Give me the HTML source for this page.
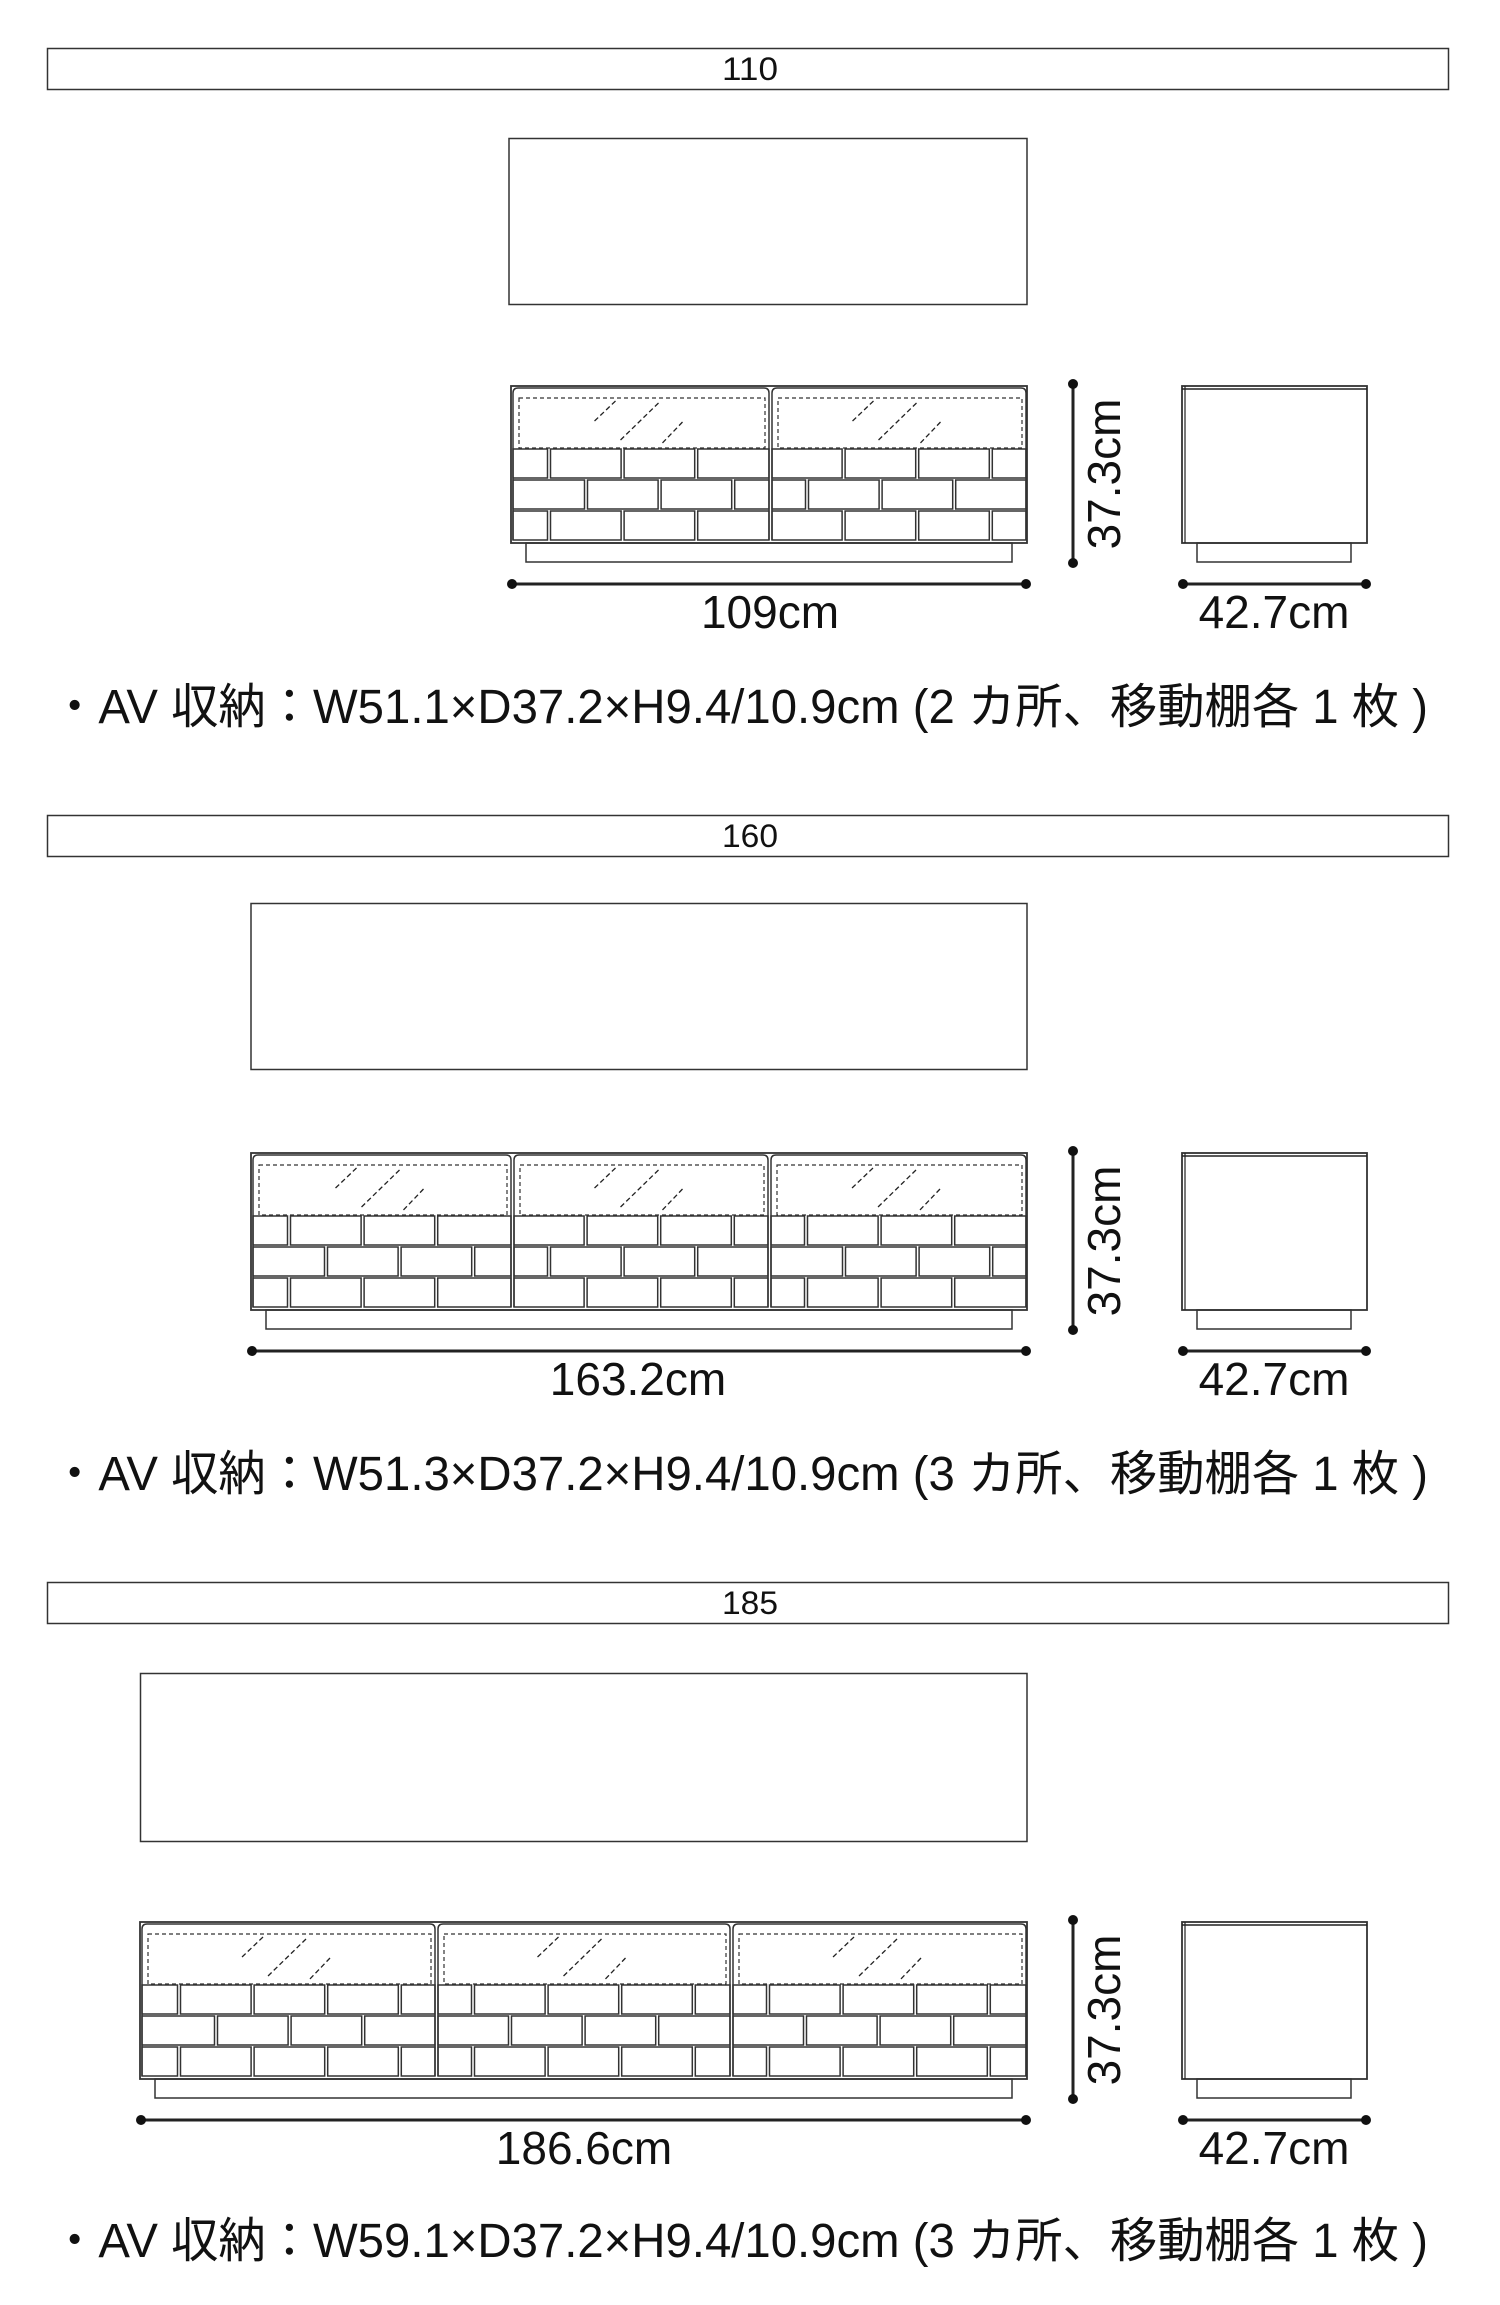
<!DOCTYPE html>
<html><head><meta charset="utf-8">
<style>
html,body{margin:0;padding:0;background:#fff;}
svg{display:block;}
text{font-family:"Liberation Sans","Noto Sans CJK JP",sans-serif;fill:#111;}
</style></head>
<body>
<svg id="s" width="1500" height="2305" viewBox="0 0 1500 2305" xmlns="http://www.w3.org/2000/svg">
<rect x="0" y="0" width="1500" height="2305" fill="#fff"/>
<rect x="47.5" y="48.5" width="1401" height="41" fill="none" stroke="#333" stroke-width="1.5"/>
<text x="750" y="80" font-size="32" text-anchor="middle" textLength="56" lengthAdjust="spacingAndGlyphs">110</text>
<rect x="47.5" y="815.5" width="1401" height="41" fill="none" stroke="#333" stroke-width="1.5"/>
<text x="750" y="847" font-size="32" text-anchor="middle" textLength="56" lengthAdjust="spacingAndGlyphs">160</text>
<rect x="47.5" y="1582.5" width="1401" height="41" fill="none" stroke="#333" stroke-width="1.5"/>
<text x="750" y="1614" font-size="32" text-anchor="middle" textLength="56" lengthAdjust="spacingAndGlyphs">185</text>
<rect x="509" y="138.5" width="518" height="166" fill="none" stroke="#333" stroke-width="1.5"/>
<rect x="251" y="903.5" width="776" height="166" fill="none" stroke="#333" stroke-width="1.5"/>
<rect x="140.5" y="1673.5" width="886.5" height="168" fill="none" stroke="#333" stroke-width="1.5"/>
<text x="770" y="628" font-size="46" text-anchor="middle">109cm</text>
<text x="638" y="1395" font-size="46" text-anchor="middle">163.2cm</text>
<text x="584" y="2164" font-size="46" text-anchor="middle">186.6cm</text>
<text x="1274" y="628" font-size="46" text-anchor="middle">42.7cm</text>
<text x="1274" y="1395" font-size="46" text-anchor="middle">42.7cm</text>
<text x="1274" y="2164" font-size="46" text-anchor="middle">42.7cm</text>
<text transform="translate(1120,474) rotate(-90)" font-size="46" text-anchor="middle">37.3cm</text>
<text transform="translate(1120,1241) rotate(-90)" font-size="46" text-anchor="middle">37.3cm</text>
<text transform="translate(1120,2010) rotate(-90)" font-size="46" text-anchor="middle">37.3cm</text>
<text x="51" y="723" font-size="48" textLength="1377" lengthAdjust="spacingAndGlyphs">・AV 収納：W51.1×D37.2×H9.4/10.9cm (2 カ所、移動棚各 1 枚 )</text>
<text x="51" y="1490" font-size="48" textLength="1377" lengthAdjust="spacingAndGlyphs">・AV 収納：W51.3×D37.2×H9.4/10.9cm (3 カ所、移動棚各 1 枚 )</text>
<text x="51" y="2257" font-size="48" textLength="1377" lengthAdjust="spacingAndGlyphs">・AV 収納：W59.1×D37.2×H9.4/10.9cm (3 カ所、移動棚各 1 枚 )</text>
<g id="g"></g>
</svg>
<script>
(function(){
var g=document.getElementById('g');var h='';
var P=73.6;
function ln(x1,y1,x2,y2,w,extra){h+='<line x1="'+x1+'" y1="'+y1+'" x2="'+x2+'" y2="'+y2+'" stroke="#222" stroke-width="'+w+'" '+(extra||'')+'/>';}
function rc(x,y,w,hh,sw,extra){h+='<rect x="'+x+'" y="'+y+'" width="'+w+'" height="'+hh+'" fill="none" stroke="#333" stroke-width="'+sw+'" '+(extra||'')+'/>';}
function dot(x,y){h+='<circle cx="'+x+'" cy="'+y+'" r="5" fill="#111"/>';}
function section(T,L,doors,offs){
  var R=1027;
  rc(L,T,R-L,157,1.8);
  rc(L+15,T+157,R-L-30,19,1.5);
  for(var d=0;d<doors.length-1;d++){
    var dl=doors[d],dr=doors[d+1];var o=offs[d];
    var x0=dl+2,x1=dr-1;
    h+='<path d="M'+x0+' '+(T+154)+' L'+x0+' '+(T+7)+' Q'+x0+' '+(T+2)+' '+(x0+5)+' '+(T+2)+' L'+(x1-5)+' '+(T+2)+' Q'+x1+' '+(T+2)+' '+x1+' '+(T+7)+' L'+x1+' '+(T+154)+'" fill="none" stroke="#333" stroke-width="1.5"/>';
    rc(dl+8,T+12,dr-dl-13,50,1.2,'stroke-dasharray="4 3"');
    var c=(dl+dr)/2;
    ln(c-25,T+15,c-47,T+36,1.3,'stroke-dasharray="5 3"');
    ln(c+18,T+17,c-20,T+54,1.3,'stroke-dasharray="5 3"');
    ln(c+42,T+36,c+21,T+58,1.3,'stroke-dasharray="5 3"');
    var rows=[[T+62,T+92,o[0]],[T+93,T+123,o[1]],[T+124,T+154,o[0]]];
    rows.forEach(function(r){
      var joints=[];
      for(var k=-2;k<10;k++){var j=dl+r[2]+k*P;if(j>dl+12&&j<dr-12)joints.push(j);}
      var st=[x0].concat(joints.map(function(j){return j+1.5;}));
      var en=joints.map(function(j){return j-1.5;}).concat([x1]);
      for(var m=0;m<st.length;m++){rc(st[m].toFixed(1),r[0]+1,(en[m]-st[m]).toFixed(1),r[1]-r[0]-1,1.5);}
    });
  }
  ln(L+1,T+198,R-1,T+198,3);dot(L+1,T+198);dot(R-1,T+198);
  ln(1073,T-2,1073,T+177,3);dot(1073,T-2);dot(1073,T+177);
  rc(1182,T,185,157,1.8);
  ln(1182,T+3,1367,T+3,1.5);
  ln(1185,T,1185,T+157,1.2);
  rc(1197,T+157,154,19,1.5);
  ln(1183,T+198,1366,T+198,3);dot(1183,T+198);dot(1366,T+198);
}
section(386,511,[511,770,1027],[[38,75],[0,37]]);
section(1153,251,[251,512,769,1027],[[38,75],[0,37],[37,75]]);
section(1922,140,[140,436,731,1027],[[39,76],[37,74],[37,74]]);
g.innerHTML=h;
})();
</script>
</body></html>
